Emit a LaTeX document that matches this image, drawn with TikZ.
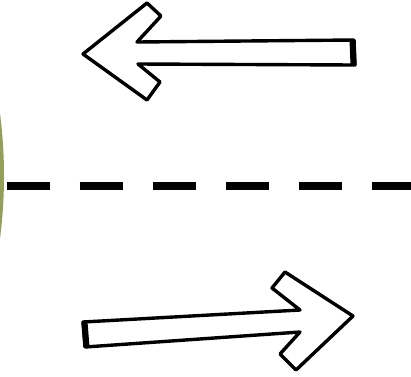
\documentclass[tikz,border=0pt]{standalone}
\usetikzlibrary{calc}
\definecolor{bankgreen}{RGB}{150,158,92}
\tikzset{
    outline/.style = {draw=black, fill=white, line width=3.4pt, line join=round},
    endcap/.style  = {line width=6pt, line cap=butt},
    lane/.style    = {line width=8pt, dash pattern=on 43.5pt off 29.5pt}
}

\begin{document}
\begin{tikzpicture}[x=1pt,y=-1pt]

    \useasboundingbox (0,0) rectangle (411,376);

    % ---------- green bank at the left edge ----------
    \begin{scope}
        \clip (0,0) rectangle (411,376);
        \fill[bankgreen] (-481,176) circle (485pt);
    \end{scope}

    % =================================================
    % 1. Upper arrow, pointing left
    % =================================================
    \coordinate (UTip)    at (83,54);
    \coordinate (UBarbA)  at (147,3);
    \coordinate (UBarbB)  at (161,16);
    \coordinate (UNotchA) at (137,42);
    \coordinate (UEndT)   at (354,40);
    \coordinate (UEndB)   at (355,65);
    \coordinate (UNotchB) at (138,64);
    \coordinate (UBarbC)  at (160,82);
    \coordinate (UBarbD)  at (147,100);

    \draw[outline] (UTip) -- (UBarbA) -- (UBarbB) -- (UNotchA)
        -- (UEndT) -- (UEndB) -- (UNotchB) -- (UBarbC) -- (UBarbD) -- cycle;
    \draw[endcap] ($(UEndT)+(-1.5,0)$) -- ($(UEndB)+(-1.5,0)$);

    % =================================================
    % 2. Dashed centre line
    % =================================================
    \coordinate (LaneW) at (6.5,186);
    \coordinate (LaneE) at (411,186);
    \draw[lane] (LaneW) -- (LaneE);

    % =================================================
    % 3. Lower arrow, pointing right
    % =================================================
    \coordinate (LEndT)   at (83,322);
    \coordinate (LNotchA) at (300,310);
    \coordinate (LBarbA)  at (272,288);
    \coordinate (LBarbB)  at (285,272);
    \coordinate (LTip)    at (353,316);
    \coordinate (LBarbC)  at (296,370);
    \coordinate (LBarbD)  at (280,354);
    \coordinate (LNotchB) at (300,332);
    \coordinate (LEndB)   at (85,347);

    \draw[outline] (LEndT) -- (LNotchA) -- (LBarbA) -- (LBarbB) -- (LTip)
        -- (LBarbC) -- (LBarbD) -- (LNotchB) -- (LEndB) -- cycle;
    \draw[endcap] ($(LEndT)+(1.5,0)$) -- ($(LEndB)+(1.5,0)$);

\end{tikzpicture}
\end{document}
